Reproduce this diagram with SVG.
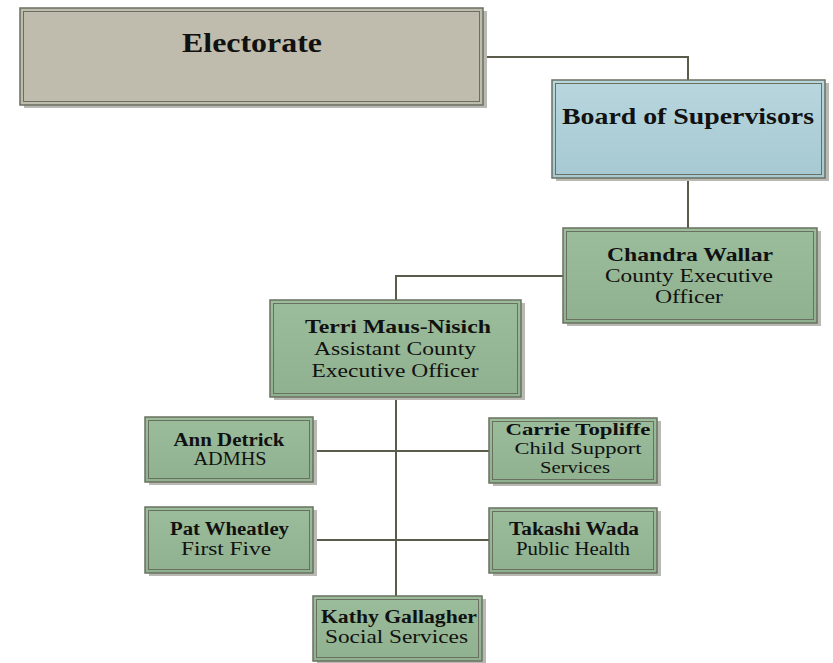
<svg xmlns="http://www.w3.org/2000/svg" width="833" height="663" viewBox="0 0 833 663">
<defs>
<linearGradient id="gBlue" x1="0" y1="0" x2="0" y2="1"><stop offset="0" stop-color="#b8d6de"/><stop offset="1" stop-color="#a6c9d2"/></linearGradient>
<linearGradient id="gGreen" x1="0" y1="0" x2="0" y2="1"><stop offset="0" stop-color="#9cbd9c"/><stop offset="1" stop-color="#8fb18f"/></linearGradient>
</defs>
<style>
.sh{fill:#b9b9b4;}
.o{stroke:#6a7060;stroke-width:1.5;}
.i{fill:none;stroke:#6a7060;stroke-width:1;}
.gr{fill:url(#gGreen);}
.t{font-family:"Liberation Serif","Times New Roman",serif;fill:#111;text-anchor:middle;}
.b{font-weight:bold;}
.c{fill:none;stroke:#5b5b4c;stroke-width:2;}
</style>
<rect width="833" height="663" fill="#ffffff"/>
<g id="connectors">
<polyline class="c" points="483,57 688,57 688,80"/>
<line class="c" x1="688" y1="178" x2="688" y2="228"/>
<polyline class="c" points="563,276 396,276 396,300"/>
<line class="c" x1="396" y1="397" x2="396" y2="596"/>
<line class="c" x1="313" y1="451" x2="489" y2="451"/>
<line class="c" x1="313" y1="540" x2="489" y2="540"/>
</g>
<g id="electorate">
<rect class="sh" x="24" y="11" width="463" height="97"/>
<rect class="o" x="20" y="8" width="463" height="97" fill="#bfbbad"/>
<rect class="i" x="23.5" y="11.5" width="456" height="90"/>
<text class="t b" x="252" y="52" font-size="28" textLength="140" lengthAdjust="spacingAndGlyphs">Electorate</text>
</g>
<g id="board">
<rect class="sh" x="556" y="83" width="273" height="98"/>
<rect class="o" x="552" y="80" width="273" height="98" fill="url(#gBlue)"/>
<rect class="i" x="555.5" y="83.5" width="266" height="91"/>
<text class="t b" x="688" y="124" font-size="24" textLength="252" lengthAdjust="spacingAndGlyphs">Board of Supervisors</text>
</g>
<g id="chandra">
<rect class="sh" x="567" y="231" width="254" height="95"/>
<rect class="o gr" x="563" y="228" width="254" height="95"/>
<rect class="i" x="566.5" y="231.5" width="247" height="88"/>
<text class="t b" x="690" y="261" font-size="19" textLength="166" lengthAdjust="spacingAndGlyphs">Chandra Wallar</text>
<text class="t" x="689" y="282" font-size="19" textLength="168" lengthAdjust="spacingAndGlyphs">County Executive</text>
<text class="t" x="689" y="303" font-size="19" textLength="68" lengthAdjust="spacingAndGlyphs">Officer</text>
</g>
<g id="terri">
<rect class="sh" x="274" y="303" width="251" height="97"/>
<rect class="o gr" x="270" y="300" width="251" height="97"/>
<rect class="i" x="273.5" y="303.5" width="244" height="90"/>
<text class="t b" x="398" y="333" font-size="19" textLength="186" lengthAdjust="spacingAndGlyphs">Terri Maus-Nisich</text>
<text class="t" x="395" y="355" font-size="19" textLength="162" lengthAdjust="spacingAndGlyphs">Assistant County</text>
<text class="t" x="395" y="377" font-size="19" textLength="167" lengthAdjust="spacingAndGlyphs">Executive Officer</text>
</g>
<g id="ann">
<rect class="sh" x="149" y="420" width="168" height="65"/>
<rect class="o gr" x="145" y="417" width="168" height="65"/>
<rect class="i" x="148.5" y="420.5" width="161" height="58"/>
<text class="t b" x="229" y="446" font-size="18" textLength="111" lengthAdjust="spacingAndGlyphs">Ann Detrick</text>
<text class="t" x="230" y="465" font-size="18" textLength="73" lengthAdjust="spacingAndGlyphs">ADMHS</text>
</g>
<g id="carrie">
<rect class="sh" x="493" y="421" width="168" height="65"/>
<rect class="o gr" x="489" y="418" width="168" height="65"/>
<rect class="i" x="492.5" y="421.5" width="161" height="58"/>
<text class="t b" x="578" y="435" font-size="16.5" textLength="145" lengthAdjust="spacingAndGlyphs">Carrie Topliffe</text>
<text class="t" x="578" y="454" font-size="16.5" textLength="127" lengthAdjust="spacingAndGlyphs">Child Support</text>
<text class="t" x="575" y="473" font-size="16.5" textLength="70" lengthAdjust="spacingAndGlyphs">Services</text>
</g>
<g id="pat">
<rect class="sh" x="149" y="510" width="168" height="66"/>
<rect class="o gr" x="145" y="507" width="168" height="66"/>
<rect class="i" x="148.5" y="510.5" width="161" height="59"/>
<text class="t b" x="229.5" y="535" font-size="18" textLength="119" lengthAdjust="spacingAndGlyphs">Pat Wheatley</text>
<text class="t" x="226" y="555" font-size="18" textLength="90" lengthAdjust="spacingAndGlyphs">First Five</text>
</g>
<g id="takashi">
<rect class="sh" x="493" y="511" width="168" height="65"/>
<rect class="o gr" x="489" y="508" width="168" height="65"/>
<rect class="i" x="492.5" y="511.5" width="161" height="58"/>
<text class="t b" x="574" y="535" font-size="18" textLength="130" lengthAdjust="spacingAndGlyphs">Takashi Wada</text>
<text class="t" x="573" y="555" font-size="18" textLength="114" lengthAdjust="spacingAndGlyphs">Public Health</text>
</g>
<g id="kathy">
<rect class="sh" x="317" y="599" width="169" height="64"/>
<rect class="o gr" x="313" y="596" width="169" height="65"/>
<rect class="i" x="316.5" y="599.5" width="162" height="58"/>
<text class="t b" x="399" y="623" font-size="18" textLength="156" lengthAdjust="spacingAndGlyphs">Kathy Gallagher</text>
<text class="t" x="396.5" y="643" font-size="18" textLength="143" lengthAdjust="spacingAndGlyphs">Social Services</text>
</g>
</svg>
